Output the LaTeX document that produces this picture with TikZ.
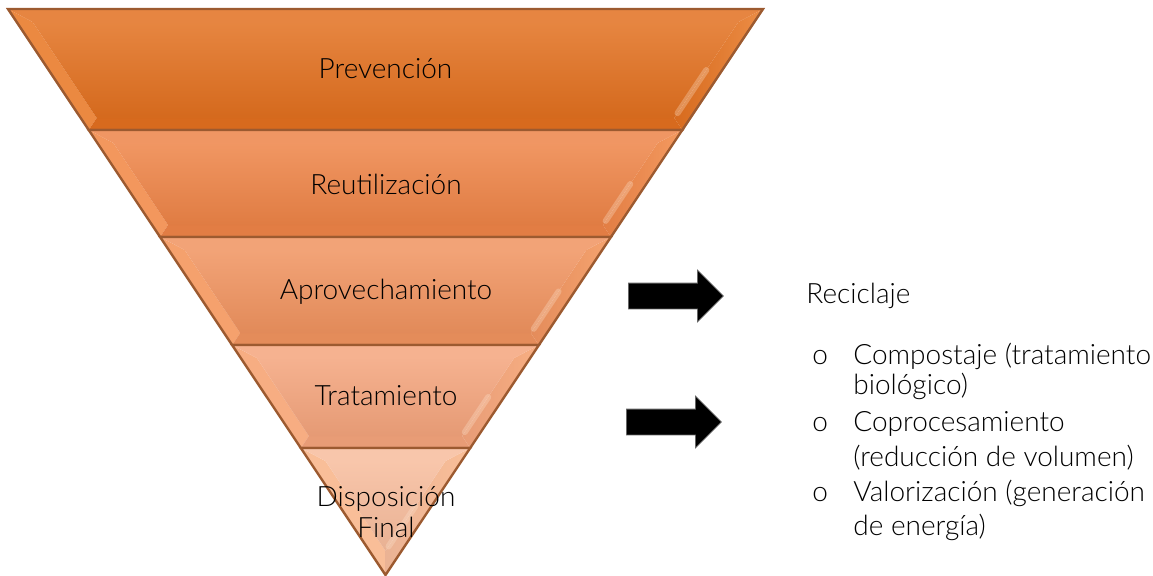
\documentclass[tikz,border=0pt]{standalone}
\usepackage{fontspec}
\setmainfont{Lato}[UprightFont=* Light]
\usepackage{tikz}
\usetikzlibrary{shapes.arrows,positioning,calc}

\definecolor{n1}{HTML}{E2701F}
\definecolor{n2}{HTML}{EE8447}
\definecolor{n3}{HTML}{F0935F}
\definecolor{n4}{HTML}{F4A47C}
\definecolor{n5}{HTML}{F7BC9C}
\definecolor{claro}{HTML}{FFC38F}
\definecolor{borde}{HTML}{9C5A30}

\begin{document}
\begin{tikzpicture}[x=0.5pt,y=-0.5pt,
    etiqueta/.style={font=\fontsize{14}{15.5}\selectfont,text=black,align=center},
    lista/.style={font=\fontsize{14}{17}\selectfont,text=black,anchor=base west,inner sep=0pt},
    flecha/.style={single arrow,fill=black,draw=black!60,inner xsep=0pt,inner ysep=6.25pt,
                   single arrow head extend=6.5pt,single arrow head indent=0pt,minimum height=47.5pt}]
  \useasboundingbox (0,0) rectangle (1153,575);

  % bandas de la piramide invertida
  \foreach \yt/\yb/\cara in {9/130/n1,130/237/n2,237/345/n3,345/448/n4,448/575/n5}{
    \pgfmathsetmacro\anchoS{0.66696*(575-\yt)}
    \pgfmathsetmacro\anchoI{0.66696*(575-\yb)}
    \pgfmathsetmacro\yti{\yt+13}
    \pgfmathsetmacro\ybi{min(\yb-12,551)}
    \pgfmathsetmacro\anchoSi{0.66696*(575-\yti)-16}
    \pgfmathsetmacro\anchoIi{max(0.66696*(575-\ybi)-16,0)}
    \coordinate (A) at (385.5-\anchoS,\yt);
    \coordinate (B) at (385.5+\anchoS,\yt);
    \coordinate (C) at (385.5+\anchoI,\yb);
    \coordinate (D) at (385.5-\anchoI,\yb);
    \coordinate (Ai) at (385.5-\anchoSi,\yti);
    \coordinate (Bi) at (385.5+\anchoSi,\yti);
    \coordinate (Ci) at (385.5+\anchoIi,\ybi);
    \coordinate (Di) at (385.5-\anchoIi,\ybi);
    \fill[\cara!70!claro] (A) -- (D) -- (Di) -- (Ai) -- cycle;
    \shade[left color=\cara!95!black,right color=\cara!65!claro] (B) -- (C) -- (Ci) -- (Bi) -- cycle;
    \fill[\cara!85!white] (A) -- (B) -- (Bi) -- (Ai) -- cycle;
    \fill[\cara!95!black] (D) -- (C) -- (Ci) -- (Di) -- cycle;
    \shade[top color=\cara!85!white,bottom color=\cara!94!black] (Ai) -- (Bi) -- (Ci) -- (Di) -- cycle;
    \draw[line width=3,claro!40!white,opacity=.3,line cap=round] ($(Bi)!.5!(Ci)$) -- ($(Bi)!.95!(Ci)$);
    \draw[borde,line width=1.2] (A) -- (B) -- (C) -- (D) -- cycle;
  }

  \node[etiqueta] (prevencion) at (385.5,69) {Prevención};
  \node[etiqueta] (reutilizacion) at (386,184) {Reutilización};
  \node[etiqueta] (aprovechamiento) at (386,292) {Aprovechamiento};
  \node[etiqueta] (tratamiento) at (386,396) {Tratamiento};
  \node[etiqueta] (disposicion) at (386,512) {Disposición\\Final};

  \node[flecha,anchor=tail] (flecha1) at (628,296) {};
  \node[flecha,anchor=tail] (flecha2) at (626,422) {};

  % texto de la derecha
  \node[lista] (reciclaje) at (806,303) {Reciclaje};
  \foreach \yb in {364,431,501}
    \node[lista] at (812,\yb) {o};
  \foreach \yb/\txt [count=\i] in {364/Compostaje (tratamiento,394/biológico),
      431/Coprocesamiento,466/(reducción de volumen),501/Valorización (generación,535/de energía)}
    \node[lista] (linea\i) at (853,\yb) {\txt};
\end{tikzpicture}
\end{document}
